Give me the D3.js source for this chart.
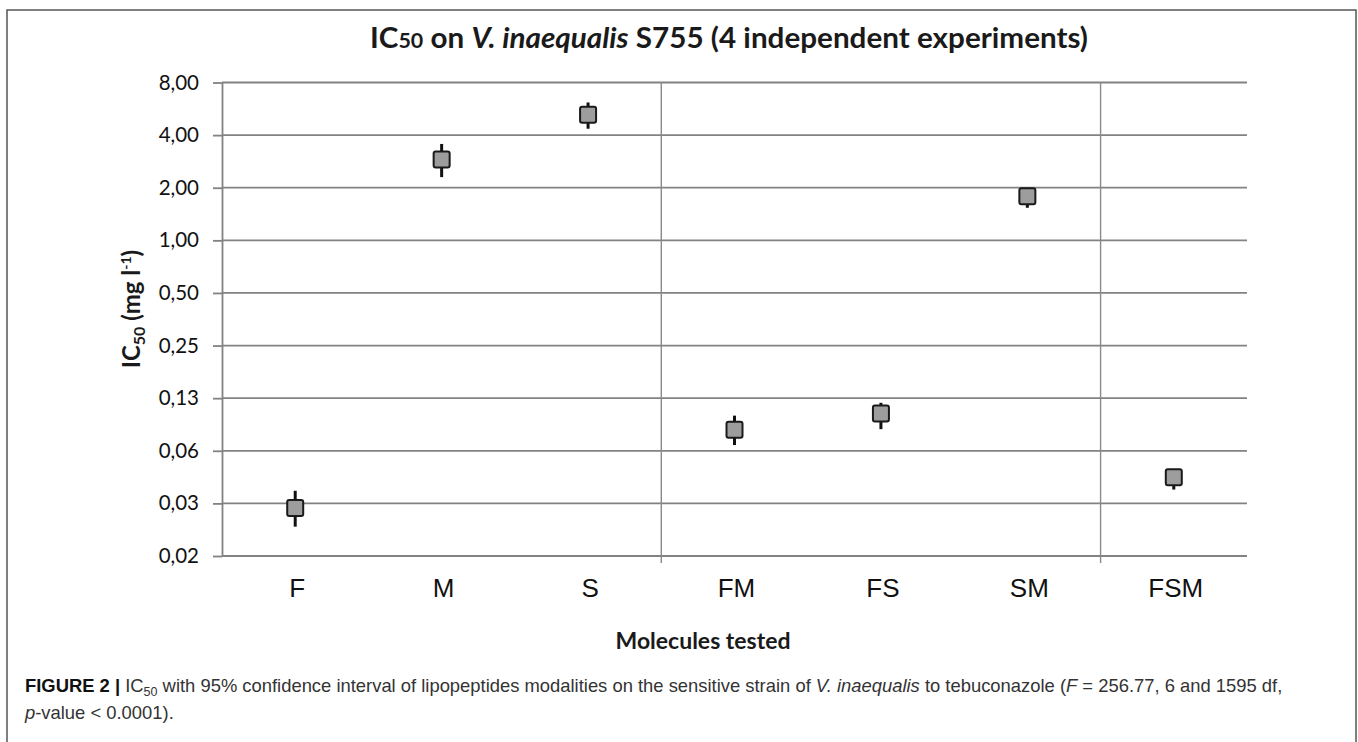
<!DOCTYPE html>
<html>
<head>
<meta charset="utf-8">
<script src="https://cdn.jsdelivr.net/npm/d3@7"></script>
<style>
  body { margin: 0; background: #fff; }
  svg { display: block; }
</style>
</head>
<body>
<svg id="chart" width="1358" height="742"></svg>
<script>
// data (IC50 in mg/l, 95% CI)
var molecules = ["F", "M", "S", "FM", "FS", "SM", "FSM"];
var ic50 = [0.0294, 2.90, 5.23, 0.0825, 0.102, 1.787, 0.0441];
var ciLow = [0.0230, 2.30, 4.35, 0.0674, 0.0831, 1.536, 0.0375];
var ciHigh = [0.0369, 3.56, 6.15, 0.0993, 0.1176, 1.95, 0.047];

var yTicks = [0.015625, 0.03125, 0.0625, 0.125, 0.25, 0.5, 1, 2, 4, 8];
var yTickLabels = ["0,02", "0,03", "0,06", "0,13", "0,25", "0,50", "1,00", "2,00", "4,00", "8,00"];

// groups start here: single / pairs / triple
var groupStarts = ["FM", "FSM"];

var W = 1358, H = 742;
var margin = {top: 82.5, right: 111, bottom: 186, left: 222};
var width = W - margin.left - margin.right,
    height = H - margin.top - margin.bottom;

var svg = d3.select("#chart");

// journal figure frame
svg.append("rect")
  .attr("x", 7).attr("y", 10)
  .attr("width", 1349).attr("height", 780)
  .attr("fill", "none")
  .attr("stroke", "#555")
  .attr("stroke-width", 1.5);

var g = svg.append("g")
  .attr("transform", "translate(" + margin.left + "," + margin.top + ")");

var x = d3.scaleBand()
  .domain(molecules)
  .range([0, width])
  .padding(0);

var y = d3.scaleLog()
  .base(2)
  .domain([yTicks[0], yTicks[yTicks.length - 1]])
  .range([height, 0]);

// horizontal gridlines
g.selectAll(".hgrid")
  .data(yTicks)
  .enter()
  .append("line")
  .attr("class", "hgrid")
  .attr("x1", 0).attr("x2", width)
  .attr("y1", function(d) { return y(d); })
  .attr("y2", function(d) { return y(d); })
  .attr("stroke", "#828282")
  .attr("stroke-width", 1.8);

// vertical separators between groups
g.selectAll(".vgrid")
  .data(groupStarts)
  .enter()
  .append("line")
  .attr("class", "vgrid")
  .attr("x1", function(d) { return x(d); })
  .attr("x2", function(d) { return x(d); })
  .attr("y1", 0).attr("y2", height + 7)
  .attr("stroke", "#8a8a8a")
  .attr("stroke-width", 1.4);

// y axis
var yAxis = d3.axisLeft(y)
  .tickValues(yTicks)
  .tickFormat(function(d, i) { return yTickLabels[i]; })
  .tickSizeInner(9)
  .tickSizeOuter(0)
  .tickPadding(14);

var yg = g.append("g").attr("class", "yaxis").call(yAxis);
yg.select(".domain").attr("stroke", "#828282").attr("stroke-width", 1.8);
yg.selectAll(".tick line").attr("stroke", "#828282").attr("stroke-width", 1.8);
yg.selectAll(".tick text")
  .attr("fill", "#111")
  .style("font-family", "Lato, 'Open Sans', sans-serif")
  .style("font-size", "20.5px");

// x labels
g.selectAll(".xlab")
  .data(molecules)
  .enter()
  .append("text")
  .attr("class", "xlab")
  .attr("x", function(d) { return x(d) + x.bandwidth() / 2 + 2; })
  .attr("y", height + 41)
  .attr("text-anchor", "middle")
  .attr("fill", "#111")
  .style("font-family", "'Liberation Sans', Arial, sans-serif")
  .style("font-size", "26px")
  .text(function(d) { return d; });

// confidence interval whiskers
g.selectAll(".ci")
  .data(molecules)
  .enter()
  .append("line")
  .attr("class", "ci")
  .attr("x1", function(d) { return x(d) + x.bandwidth() / 2; })
  .attr("x2", function(d) { return x(d) + x.bandwidth() / 2; })
  .attr("y1", function(d, i) { return y(ciLow[i]); })
  .attr("y2", function(d, i) { return y(ciHigh[i]); })
  .attr("stroke", "#111")
  .attr("stroke-width", 3);

// IC50 markers
var box = 16;
g.selectAll(".pt")
  .data(molecules)
  .enter()
  .append("rect")
  .attr("class", "pt")
  .attr("x", function(d) { return x(d) + x.bandwidth() / 2 - box / 2; })
  .attr("y", function(d, i) { return y(ic50[i]) - box / 2; })
  .attr("width", box)
  .attr("height", box)
  .attr("rx", 2)
  .attr("fill", "#9d9d9d")
  .attr("stroke", "#1a1a1a")
  .attr("stroke-width", 2);

// chart title
var title = svg.append("text")
  .attr("x", 729)
  .attr("y", 48)
  .attr("text-anchor", "middle")
  .attr("textLength", 718)
  .attr("lengthAdjust", "spacingAndGlyphs")
  .attr("fill", "#1a1a1a")
  .style("font-family", "Lato, 'Open Sans', sans-serif")
  .style("font-weight", "700")
  .style("font-size", "29px");
title.append("tspan").text("IC");
title.append("tspan").style("font-size", "21px").text("50");
title.append("tspan").text(" on ");
title.append("tspan").style("font-style", "italic").text("V. inaequalis");
title.append("tspan").text(" S755 (4 independent experiments)");

// y-label
var ylab = svg.append("text")
  .attr("transform", "translate(140," + 309 + ") rotate(-90)")
  .attr("text-anchor", "middle")
  .attr("fill", "#1a1a1a")
  .style("font-family", "Lato, 'Open Sans', sans-serif")
  .style("font-weight", "700")
  .style("font-size", "24px");
ylab.append("tspan").text("IC");
ylab.append("tspan").style("font-size", "16px").attr("dy", 5).text("50");
ylab.append("tspan").attr("dy", -5).text(" (mg l");
ylab.append("tspan").style("font-size", "14px").attr("dy", -9).text("-1");
ylab.append("tspan").attr("dy", 9).text(")");

// x-label
svg.append("text")
  .attr("x", 703)
  .attr("y", 649)
  .attr("text-anchor", "middle")
  .attr("fill", "#1a1a1a")
  .style("font-family", "Lato, 'Open Sans', sans-serif")
  .style("font-weight", "700")
  .style("font-size", "23px")
  .text("Molecules tested");

// figure caption
var capFont = "'Liberation Sans', Arial, sans-serif";
var cap1 = svg.append("text")
  .attr("x", 25).attr("y", 692)
  .attr("fill", "#333")
  .style("font-family", capFont)
  .style("font-size", "18.4px");
cap1.append("tspan").style("font-weight", "700").attr("fill", "#111").text("FIGURE 2 | ");
cap1.append("tspan").text("IC");
cap1.append("tspan").style("font-size", "12.5px").attr("dy", 4).text("50");
cap1.append("tspan").attr("dy", -4).text(" with 95% confidence interval of lipopeptides modalities on the sensitive strain of ");
cap1.append("tspan").style("font-style", "italic").text("V. inaequalis");
cap1.append("tspan").text(" to tebuconazole (");
cap1.append("tspan").style("font-style", "italic").text("F");
cap1.append("tspan").text(" = 256.77, 6 and 1595 df,");

var cap2 = svg.append("text")
  .attr("x", 25).attr("y", 719)
  .attr("fill", "#333")
  .style("font-family", capFont)
  .style("font-size", "18.4px");
cap2.append("tspan").style("font-style", "italic").text("p");
cap2.append("tspan").text("-value < 0.0001).");
</script>
</body>
</html>
